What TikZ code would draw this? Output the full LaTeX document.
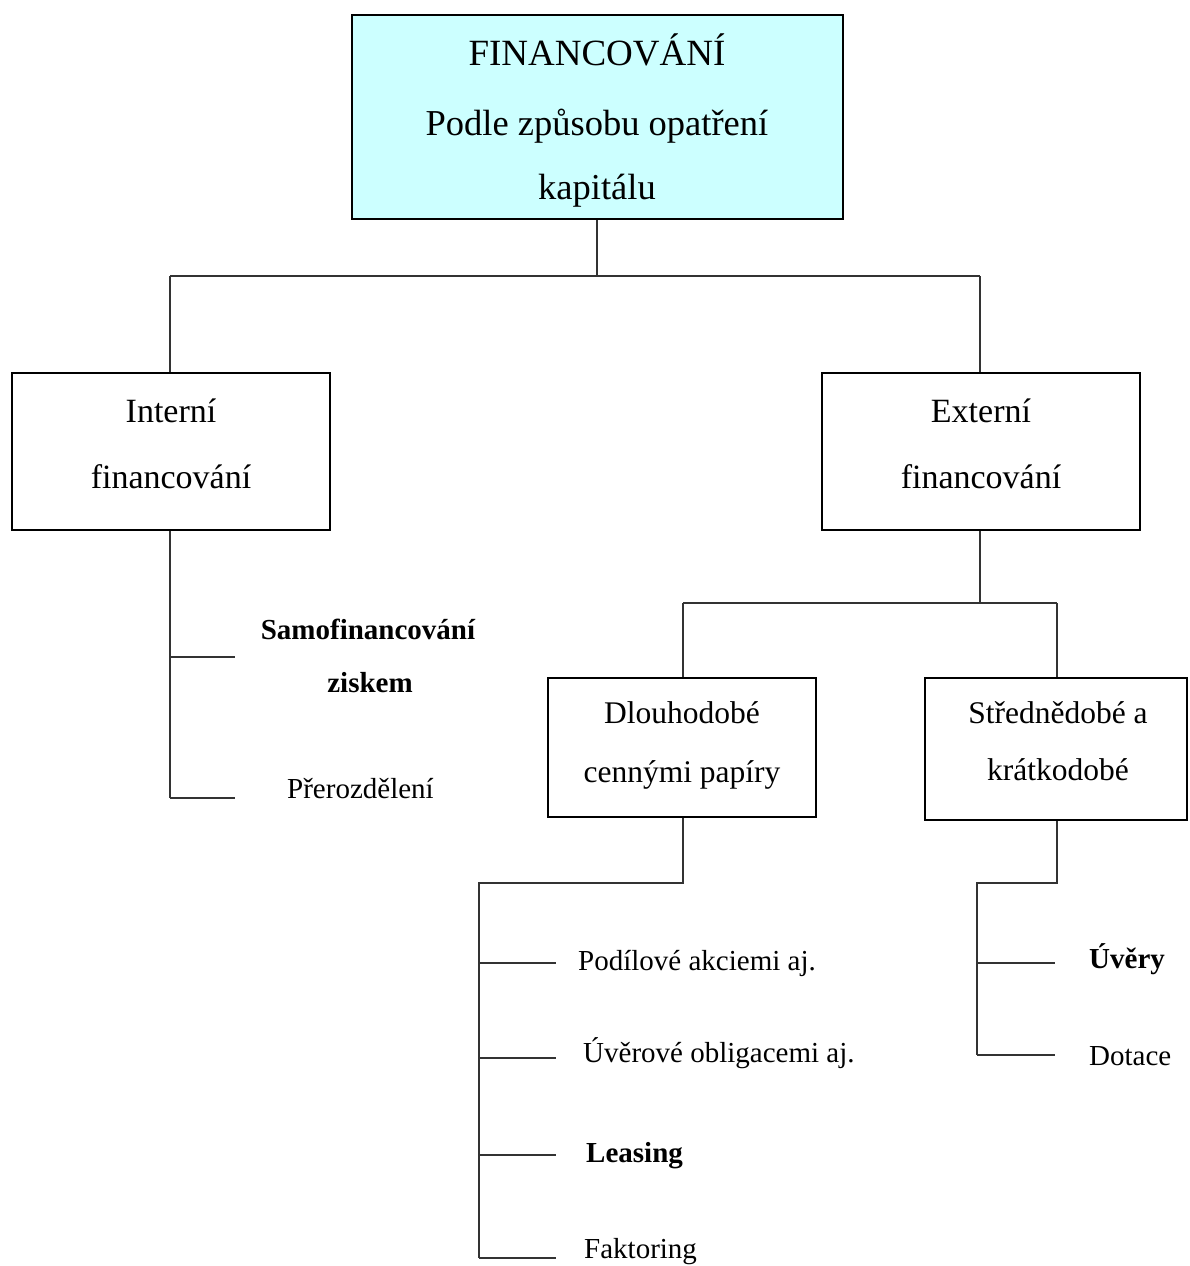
\documentclass[tikz,border=0pt]{standalone}
\usepackage{fontspec}
\setmainfont{Liberation Serif}
\definecolor{topfill}{HTML}{CCFFFF}
\definecolor{linec}{HTML}{333333}
\begin{document}
\begin{tikzpicture}[x=1pt,y=-1pt,
  box/.style={draw=black, line width=2pt, inner sep=0pt},
  conn/.style={draw=linec, line width=1.4pt},
  bigtxt/.style={anchor=base, inner sep=0pt, font=\fontsize{36.5}{40}\selectfont},
  boxtxt/.style={anchor=base, inner sep=0pt, font=\fontsize{34}{40}\selectfont},
  midtxt/.style={anchor=base, inner sep=0pt, font=\fontsize{31.5}{36}\selectfont},
  leaf/.style={anchor=base west, inner sep=0pt, font=\fontsize{29}{34}\selectfont},
  bleaf/.style={anchor=base west, inner sep=0pt, font=\fontsize{29}{34}\selectfont\bfseries}]
\useasboundingbox (0,0) rectangle (1189,1266);

% boxes
\node[box, fill=topfill, minimum width=491pt, minimum height=204pt] (top) at (597.5,117) {};
\node[box, minimum width=318pt, minimum height=157pt] (int) at (171,451.5) {};
\node[box, minimum width=318pt, minimum height=157pt] (ext) at (981,451.5) {};
\node[box, minimum width=268pt, minimum height=139pt] (dlo) at (682,747.5) {};
\node[box, minimum width=262pt, minimum height=142pt] (str) at (1056,749) {};

% box texts
\node[anchor=base, inner sep=0pt, font=\fontsize{37}{40}\selectfont] (t1) at (597,65) {FINANCOVÁNÍ};
\node[bigtxt] (t2) at (597,135) {Podle způsobu opatření};
\node[bigtxt] (t3) at (597,199) {kapitálu};
\node[boxtxt] (i1) at (171,422) {Interní};
\node[boxtxt] (i2) at (171,488) {financování};
\node[boxtxt] (e1) at (981,422) {Externí};
\node[boxtxt] (e2) at (981,488) {financování};
\node[midtxt] (d1) at (682,723) {Dlouhodobé};
\node[midtxt] (d2) at (682,782) {cennými papíry};
\node[midtxt] (s1) at (1058,723) {Střednědobé a};
\node[midtxt] (s2) at (1058,780) {krátkodobé};

% leaf labels
\node[anchor=base, inner sep=0pt, font=\fontsize{29}{34}\selectfont\bfseries] (sam1) at (368,639) {Samofinancování};
\node[anchor=base, inner sep=0pt, font=\fontsize{29}{34}\selectfont\bfseries] (sam2) at (370,692) {ziskem};
\node[leaf] (pre) at (287,798) {Přerozdělení};
\node[leaf] (pod) at (578,970) {Podílové akciemi aj.};
\node[leaf] (uvo) at (583,1062) {Úvěrové obligacemi aj.};
\node[bleaf] (lea) at (586,1162) {Leasing};
\node[leaf] (fak) at (584,1258) {Faktoring};
\node[bleaf] (uve) at (1089,968) {Úvěry};
\node[leaf] (dot) at (1089,1065) {Dotace};

% junction coordinates
\coordinate (j0) at (597,276);
\coordinate (jl) at (170,276);
\coordinate (jr) at (980,276);
\coordinate (i0) at (170,798);
\coordinate (ia) at (235,657);
\coordinate (ib) at (235,798);
\coordinate (x0) at (980,603);
\coordinate (xl) at (683,603);
\coordinate (xr) at (1057,603);
\coordinate (d0) at (683,883);
\coordinate (dl) at (479,883);
\coordinate (dv) at (479,1258);
\coordinate (da) at (556,963);
\coordinate (db) at (556,1058);
\coordinate (dc) at (556,1155);
\coordinate (dd) at (556,1258);
\coordinate (s0) at (1057,883);
\coordinate (sl) at (977,883);
\coordinate (sv) at (977,1055);
\coordinate (sa) at (1055,963);
\coordinate (sb) at (1055,1055);

% connectors
\draw[conn] (top.south -| j0) -- (j0);
\draw[conn] (jl) -- (jr);
\draw[conn] (jl) -- (int.north -| jl);
\draw[conn] (jr) -- (ext.north -| jr);
\draw[conn] (int.south -| i0) -- (i0);
\draw[conn] (ia -| i0) -- (ia);
\draw[conn] (i0) -- (ib);
\draw[conn] (ext.south -| x0) -- (x0);
\draw[conn] (xl) -- (xr);
\draw[conn] (xl) -- (dlo.north -| xl);
\draw[conn] (xr) -- (str.north -| xr);
\draw[conn] (dlo.south -| d0) -- (d0) -- (dl) -- (dv);
\draw[conn] (da -| dl) -- (da);
\draw[conn] (db -| dl) -- (db);
\draw[conn] (dc -| dl) -- (dc);
\draw[conn] (dv) -- (dd);
\draw[conn] (str.south -| s0) -- (s0) -- (sl) -- (sv);
\draw[conn] (sa -| sl) -- (sa);
\draw[conn] (sv) -- (sb);
\end{tikzpicture}
\end{document}
